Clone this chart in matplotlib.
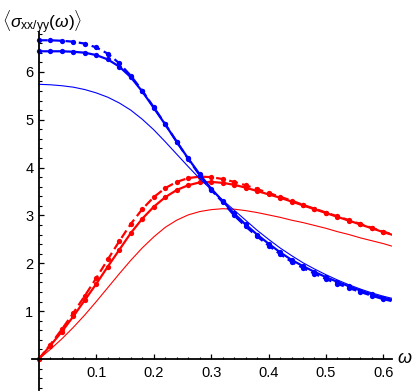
import numpy as np
import matplotlib
matplotlib.use("Agg")
import matplotlib.pyplot as plt
from matplotlib.ticker import MultipleLocator, FixedLocator

plt.rcParams['font.family'] = ['Liberation Sans', 'DejaVu Sans']
plt.rcParams['mathtext.fontset'] = 'custom'
plt.rcParams['mathtext.rm'] = 'Liberation Sans'
plt.rcParams['mathtext.it'] = 'Liberation Sans:italic'

# frequency grid (dots every 0.02, last point is the plot edge)
omega = [0.00, 0.02, 0.04, 0.06, 0.08, 0.10, 0.12, 0.14, 0.16, 0.18,
         0.20, 0.22, 0.24, 0.26, 0.28, 0.30, 0.32, 0.34, 0.36, 0.38,
         0.40, 0.42, 0.44, 0.46, 0.48, 0.50, 0.52, 0.54, 0.56, 0.58,
         0.60, 0.614]

# sigma_xx (blue)
blue_dashed = [6.66, 6.66, 6.65, 6.63, 6.59, 6.51, 6.38, 6.18, 5.92, 5.61,
               5.26, 4.91, 4.54, 4.18, 3.84, 3.53, 3.28, 3.00, 2.77, 2.56,
               2.37, 2.19, 2.03, 1.90, 1.78, 1.67, 1.57, 1.48, 1.40, 1.32,
               1.25, 1.21]
blue_solid = [6.43, 6.43, 6.43, 6.42, 6.40, 6.35, 6.26, 6.11, 5.89, 5.59,
              5.25, 4.90, 4.54, 4.19, 3.86, 3.56, 3.30, 3.04, 2.81, 2.60,
              2.41, 2.23, 2.07, 1.94, 1.82, 1.71, 1.61, 1.52, 1.43, 1.35,
              1.28, 1.24]
blue_thin = [5.74, 5.73, 5.71, 5.68, 5.63, 5.56, 5.47, 5.35, 5.20, 5.01,
             4.79, 4.54, 4.28, 4.02, 3.77, 3.54, 3.32, 3.11, 2.90, 2.69,
             2.50, 2.32, 2.16, 2.01, 1.88, 1.76, 1.65, 1.55, 1.46, 1.38,
             1.31, 1.27]

# sigma_yy (red)
red_dashed = [0.00, 0.30, 0.62, 0.96, 1.32, 1.69, 2.08, 2.46, 2.82, 3.13,
              3.38, 3.57, 3.70, 3.78, 3.81, 3.80, 3.76, 3.70, 3.63, 3.55,
              3.47, 3.39, 3.31, 3.22, 3.14, 3.06, 2.98, 2.90, 2.82, 2.74,
              2.66, 2.61]
red_solid = [0.00, 0.28, 0.57, 0.89, 1.23, 1.57, 1.93, 2.28, 2.63, 2.93,
             3.18, 3.38, 3.53, 3.63, 3.69, 3.70, 3.68, 3.64, 3.58, 3.51,
             3.44, 3.37, 3.29, 3.21, 3.13, 3.05, 2.97, 2.89, 2.81, 2.73,
             2.65, 2.60]
red_thin = [0.00, 0.20, 0.42, 0.66, 0.92, 1.20, 1.49, 1.78, 2.06, 2.32,
            2.55, 2.75, 2.90, 3.01, 3.08, 3.12, 3.14, 3.13, 3.10, 3.06,
            3.01, 2.96, 2.90, 2.85, 2.79, 2.73, 2.66, 2.60, 2.53, 2.47,
            2.41, 2.36]

x_ticks = [0.1, 0.2, 0.3, 0.4, 0.5, 0.6]
y_ticks = [1, 2, 3, 4, 5, 6]

fig = plt.figure(figsize=(4.15, 3.92), dpi=100)
ax = fig.add_axes([0.0771, 0.005, 0.8675, 0.913])

x = np.array(omega)
for color, dashed, solid, thin in [('red', red_dashed, red_solid, red_thin),
                                   ('blue', blue_dashed, blue_solid, blue_thin)]:
    ax.plot(x, thin, color=color, lw=0.8)
    ax.plot(x, solid, color=color, lw=1.6)
    ax.plot(x, dashed, color=color, lw=1.6, dashes=(4, 2))
    ax.plot(x[:-1], solid[:-1], 'o', color=color, ms=3.8, mec='none')
    ax.plot(x[:-1], dashed[:-1], 'o', color=color, ms=3.8, mec='none')

ax.set_xlim(-0.012, 0.615)
ax.set_ylim(-0.65, 6.83)

for s in ['top', 'right']:
    ax.spines[s].set_visible(False)
ax.spines['left'].set_position(('data', 0))
ax.spines['bottom'].set_position(('data', 0))
for s in ['left', 'bottom']:
    ax.spines[s].set_linewidth(1.3)

ax.xaxis.set_major_locator(FixedLocator(x_ticks))
ax.xaxis.set_minor_locator(MultipleLocator(0.02))
ax.yaxis.set_major_locator(FixedLocator(y_ticks))
ax.yaxis.set_minor_locator(MultipleLocator(0.2))
ax.set_xticklabels([f'{t:.1f}' for t in x_ticks])
ax.set_yticklabels([str(t) for t in y_ticks])
ax.tick_params(which='major', direction='in', length=3.5, width=0.9, labelsize=10.5)
ax.tick_params(which='minor', direction='in', length=1.8, width=0.8)
ax.tick_params(axis='x', pad=5)
ax.tick_params(axis='y', pad=4)

fig.text(0.005, 0.945, r'$\langle\sigma_{\mathrm{xx/yy}}(\omega)\rangle$',
         fontsize=12.5, ha='left', va='center')
fig.text(0.975, 0.085, r'$\omega$', fontsize=13, ha='center', va='center')

fig.savefig('out.png', dpi=100)
